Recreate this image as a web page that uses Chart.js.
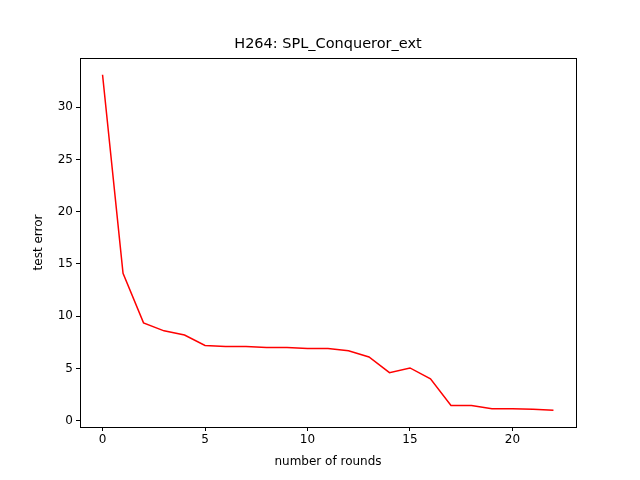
<!DOCTYPE html>
<html>
<head>
<meta charset="UTF-8"/>
<script src="https://cdn.jsdelivr.net/npm/chart.js@4/dist/chart.umd.min.js"></script>
<style>
  *{margin:0;padding:0}
  body{background:#fff;width:640px;height:480px;overflow:hidden}
</style>
</head>
<body>
<canvas id="c" width="640" height="480"></canvas>
<script>
const rounds = [0,1,2,3,4,5,6,7,8,9,10,11,12,13,14,15,16,17,18,19,20,21,22];
const testError = [33.1,14.1,9.36,8.6,8.2,7.2,7.1,7.1,7.0,7.0,6.9,6.9,6.7,6.1,4.6,5.05,4.0,1.45,1.45,1.15,1.15,1.1,1.0];
const xTicks = [0,5,10,15,20];
const yTicks = [0,5,10,15,20,25,30];
const titleText = 'H264: SPL_Conqueror_ext';
const xLabel = 'number of rounds';
const yLabel = 'test error';

const font = {family:'DejaVu Sans', size:12};
// frame + titles placed relative to the plot area, like matplotlib
const frame = {
  id:'frame',
  afterDraw(ch){
    const a = ch.chartArea, g = ch.ctx;
    const cx = (a.left + a.right) / 2, cy = (a.top + a.bottom) / 2;
    g.save(); g.strokeStyle='#000'; g.lineWidth=1;
    g.strokeRect(Math.round(a.left)+0.5, Math.round(a.top)+0.5, Math.round(a.right-a.left), Math.round(a.bottom-a.top));
    g.fillStyle='#000'; g.textAlign='center'; g.textBaseline='middle';
    g.font='14.5px "DejaVu Sans"';
    g.fillText(titleText, cx, a.top - 14);
    g.font='12px "DejaVu Sans"';
    g.fillText(xLabel, cx, a.bottom + 35);
    g.translate(a.left - 41, cy); g.rotate(-Math.PI/2);
    g.fillText(yLabel, 0, 0);
    g.restore();
  }
};

new Chart(document.getElementById('c'), {
  type:'line',
  data:{datasets:[{
    data: rounds.map((r,i)=>({x:r, y:testError[i]})),
    borderColor:'#ff0000', borderWidth:1.5, pointRadius:0, tension:0, fill:false
  }]},
  options:{
    responsive:false, animation:false,
    layout:{padding:{left:0,right:64,top:58,bottom:0}},
    plugins:{legend:{display:false}, tooltip:{enabled:false}, title:{display:false}},
    scales:{
      x:{type:'linear', min:-1.1, max:23.1,
        afterBuildTicks:s=>{s.ticks = xTicks.map(v=>({value:v}));},
        afterFit:s=>{s.height = 53;},
        ticks:{color:'#000', font, padding:2, maxRotation:0},
        grid:{drawOnChartArea:false, tickLength:4, color:'#000'},
        border:{color:'#000'}
      },
      y:{type:'linear', min:-0.6, max:34.7,
        afterBuildTicks:s=>{s.ticks = yTicks.map(v=>({value:v}));},
        afterFit:s=>{s.width = 80;},
        ticks:{color:'#000', font, padding:3},
        grid:{drawOnChartArea:false, tickLength:4, color:'#000'},
        border:{color:'#000'}
      }
    }
  },
  plugins:[frame]
});
</script>
</body>
</html>
